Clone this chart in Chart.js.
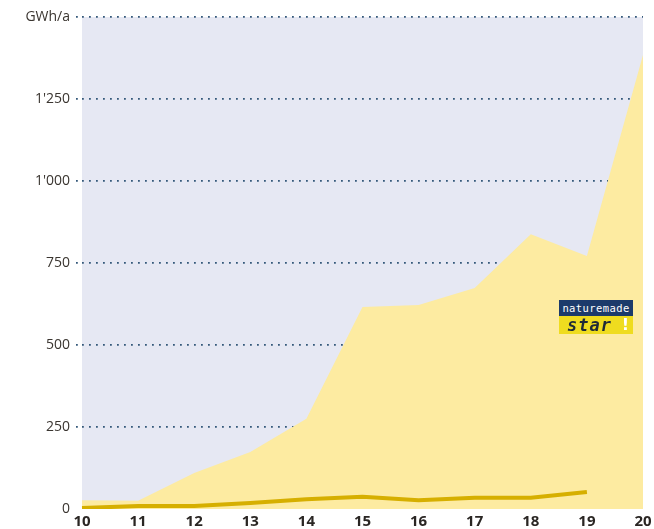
<html>
<head>
<style>
body { margin: 0; background: #fff; }
#wrap { position: relative; width: 654px; height: 529px; }
#logo { position: absolute; left: 559px; top: 300px; width: 74px; font-family: "DejaVu Sans", sans-serif; }
#logo .top { background: #1c3b6b; color: #fff; font-size: 10.5px; height: 16px; line-height: 16px; text-align: center; letter-spacing: 0.4px; font-family: "DejaVu Sans Mono", monospace; }
#logo .bot { background: #efdc1f; height: 18px; line-height: 18px; position: relative; }
#logo .star { color: #1e2a38; font-weight: bold; font-style: italic; font-size: 17px; padding-left: 8px; letter-spacing: 1px; font-family: "DejaVu Sans Mono", monospace; }
#logo .ex { position: absolute; right: 4px; top: 0; color: #fff; font-weight: bold; font-size: 16px; }
</style>
</head>
<body>
<script src="https://cdnjs.cloudflare.com/ajax/libs/Chart.js/4.4.0/chart.umd.min.js"></script>
<div id="wrap">
<canvas id="myChart" width="654" height="529"></canvas>
<div id="logo"><div class="top">naturemade</div><div class="bot"><span class="star">star</span><span class="ex">!</span></div></div>
</div>
<script>
const years = ['10', '11', '12', '13', '14', '15', '16', '17', '18', '19', '20'];
const totalValues = [27, 25, 110, 174, 275, 616, 622, 674, 838, 771, 1384];
const starValues = [3, 9, 9, 18, 30, 37, 27, 34, 34, 52, null];
const yTicks = [0, 250, 500, 750, 1000, 1250, 1500];

function fmt(v) {
    if (v == 1500) return 'GWh/a';
    if (v >= 1000) return Math.floor(v / 1000) + "'" + String(v % 1000).padStart(3, '0');
    return String(v);
}

const bgPlugin = {
    id: 'bg',
    beforeDraw(chart) {
        const a = chart.chartArea;
        const c = chart.ctx;
        c.save();
        c.fillStyle = '#e6e8f3';
        c.fillRect(a.left, a.top, a.right - a.left, a.bottom - a.top);
        c.restore();
    }
};

const gridColor = c => (c.tick && c.tick.value === 0) ? 'rgba(0,0,0,0)' : '#34587a';

const ctx = document.getElementById('myChart').getContext('2d');
const myChart = new Chart(ctx, {
    type: 'line',
    data: {
        labels: years,
        datasets: [{
            label: 'naturemade star',
            data: starValues,
            borderColor: '#d6af00',
            borderWidth: 4,
            pointRadius: 0,
            fill: false,
            order: 0
        },
        {
            label: 'Total',
            data: totalValues,
            borderWidth: 0,
            borderColor: 'rgba(0,0,0,0)',
            backgroundColor: '#fdeba1',
            pointRadius: 0,
            fill: 'origin',
            order: 1
        }]
    },
    options: {
        responsive: false,
        animation: false,
        layout: { padding: { top: 17, right: 11, left: 0, bottom: 0 } },
        plugins: { legend: { display: false }, tooltip: { enabled: false } },
        scales: {
            x: {
                offset: false,
                grid: { display: false },
                border: { display: false },
                ticks: { color: '#2a2623', font: { family: 'Open Sans', size: 15, weight: 'bold', lineHeight: 1 }, padding: -3, maxRotation: 0, autoSkip: false },
                afterFit(s) { s.height = 20; }
            },
            y: {
                min: 0,
                max: 1500,
                z: 1,
                afterBuildTicks(s) { s.ticks = yTicks.map(v => ({ value: v })); },
                grid: { color: gridColor, lineWidth: 1.8, tickLength: 6, tickBorderDash: [1.8, 5.2], tickColor: gridColor },
                border: { display: false, dash: [1.8, 5.2] },
                ticks: { color: '#3a3530', font: { family: 'Open Sans', size: 14 }, padding: 6, callback: v => fmt(v) },
                afterFit(s) { s.width = 82; }
            }
        }
    },
    plugins: [bgPlugin]
});
</script>
</body>
</html>
